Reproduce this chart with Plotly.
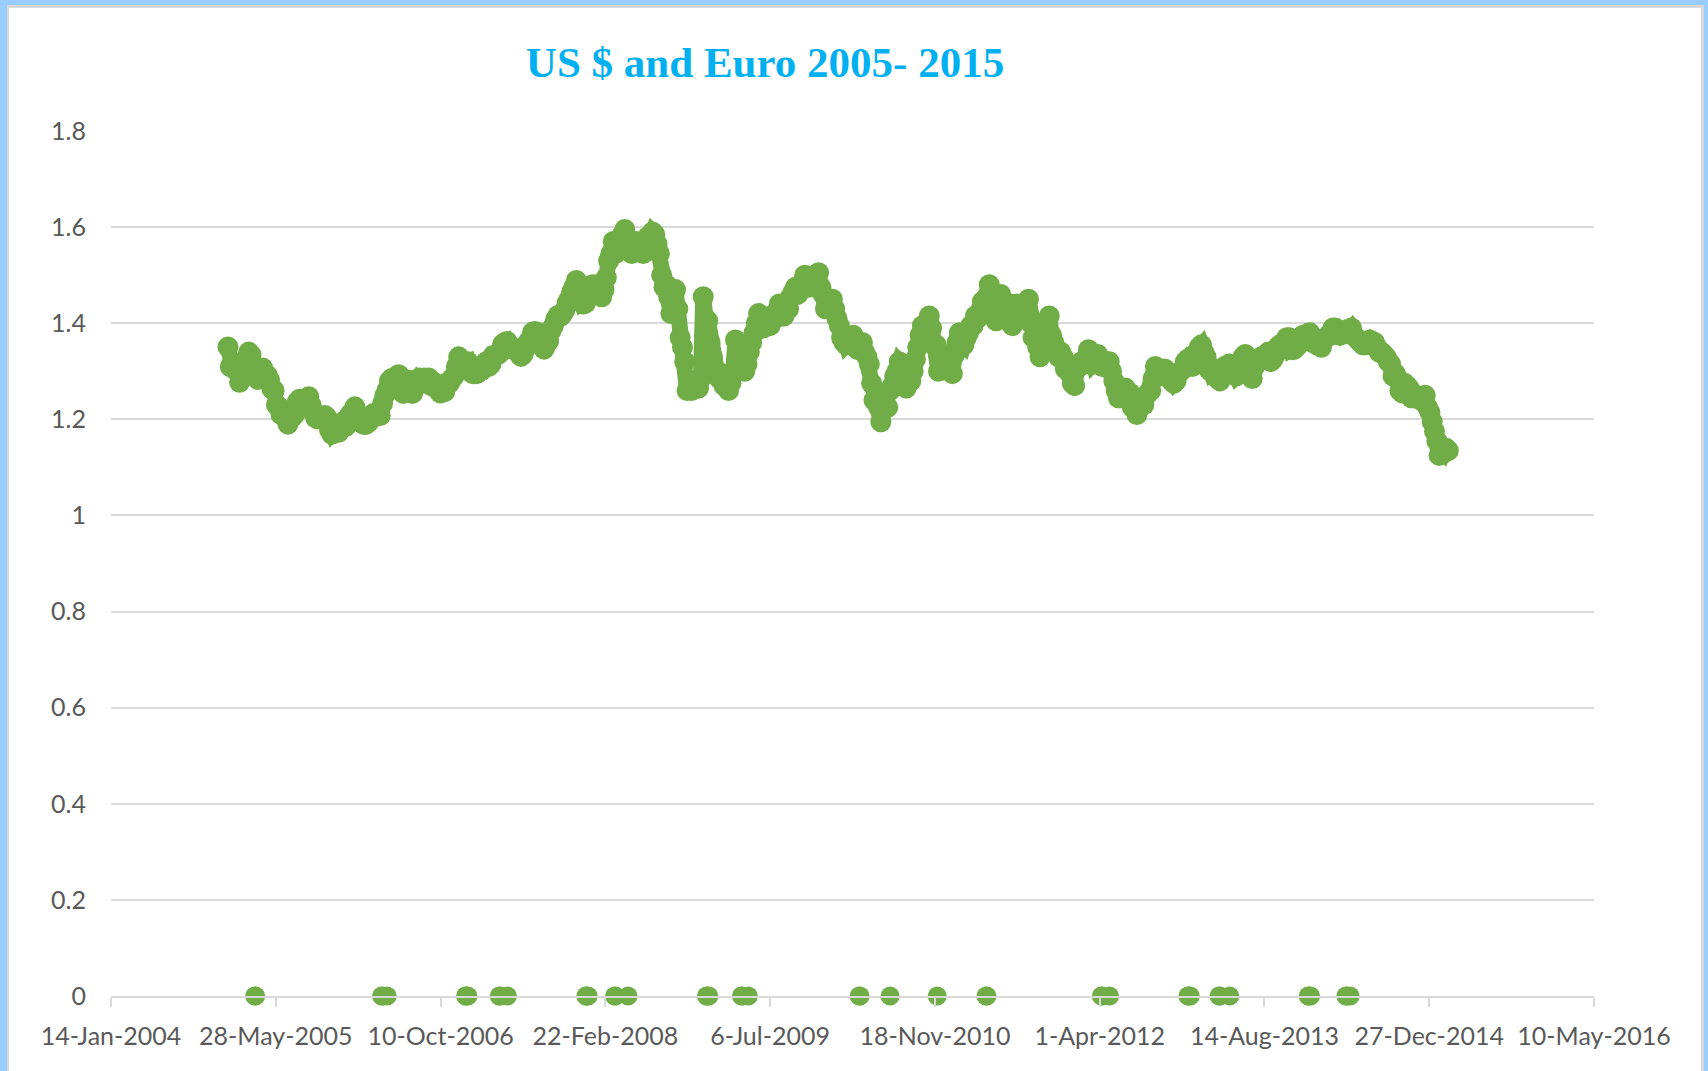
import pandas as pd
import plotly.graph_objects as go

# Weekly EUR/USD reference rates (US $ per Euro), one value per Monday of each year
rate_2005 = [1.3507, 1.3100, 1.3070, 1.3040, 1.3040,
             1.2770, 1.2980, 1.3210, 1.3250,
             1.3400, 1.3340, 1.3020, 1.2940,
             1.2830, 1.2980, 1.3070, 1.2960,
             1.2920, 1.2820, 1.2640, 1.2600, 1.2300,
             1.2260, 1.2100, 1.2170, 1.2100,
             1.1900, 1.2140, 1.2050, 1.2110,
             1.2360, 1.2420, 1.2330, 1.2260, 1.2370,
             1.2470, 1.2300, 1.2160, 1.2030,
             1.2010, 1.2020, 1.2010, 1.2080, 1.2030,
             1.1780, 1.1690, 1.1740, 1.1800,
             1.1730, 1.1900, 1.1950, 1.1850]
rate_2006 = [1.2030, 1.2110, 1.2130, 1.2260, 1.2130,
             1.1980, 1.1920, 1.1890, 1.1900,
             1.1950, 1.2000, 1.2120, 1.2080,
             1.2150, 1.2080, 1.2330, 1.2500,
             1.2610, 1.2800, 1.2850, 1.2780, 1.2850,
             1.2930, 1.2590, 1.2540, 1.2680,
             1.2820, 1.2760, 1.2540, 1.2650, 1.2770,
             1.2860, 1.2830, 1.2860, 1.2800,
             1.2860, 1.2700, 1.2780, 1.2700,
             1.2720, 1.2550, 1.2560, 1.2580, 1.2760,
             1.2750, 1.2840, 1.2900, 1.3100,
             1.3300, 1.3220, 1.3160, 1.3150]
rate_2007 = [1.3200, 1.3000, 1.2950, 1.2950, 1.2950,
             1.3000, 1.3050, 1.3150, 1.3200,
             1.3100, 1.3150, 1.3330, 1.3340,
             1.3350, 1.3390, 1.3560, 1.3600, 1.3620,
             1.3530, 1.3500, 1.3450, 1.3440,
             1.3470, 1.3310, 1.3360, 1.3480,
             1.3600, 1.3670, 1.3810, 1.3830, 1.3700,
             1.3800, 1.3630, 1.3460, 1.3650,
             1.3630, 1.3840, 1.3940, 1.4080,
             1.4160, 1.4140, 1.4190, 1.4270, 1.4420,
             1.4510, 1.4650, 1.4760, 1.4890,
             1.4650, 1.4680, 1.4400, 1.4420, 1.4600]
rate_2008 = [1.4750, 1.4800, 1.4600, 1.4800,
             1.4650, 1.4550, 1.4700, 1.4950,
             1.5300, 1.5450, 1.5700, 1.5450, 1.5600,
             1.5750, 1.5850, 1.5950, 1.5650,
             1.5500, 1.5450, 1.5650, 1.5700,
             1.5500, 1.5600, 1.5450, 1.5600, 1.5800,
             1.5700, 1.5900, 1.5850, 1.5650,
             1.5450, 1.5000, 1.4750, 1.4800,
             1.4550, 1.4200, 1.4250, 1.4700, 1.4300,
             1.3700, 1.3500, 1.3200, 1.2600,
             1.2800, 1.2600, 1.2650, 1.2700,
             1.2650, 1.2850, 1.4550, 1.4100, 1.4050]
rate_2009 = [1.3600, 1.3300, 1.3000, 1.3000,
             1.2850, 1.2950, 1.2700, 1.2700,
             1.2600, 1.2750, 1.3000, 1.3650, 1.3300,
             1.3300, 1.3200, 1.3000, 1.3150,
             1.3400, 1.3600, 1.3800, 1.4000,
             1.4200, 1.3900, 1.3900, 1.4000, 1.4100,
             1.3950, 1.4050, 1.4200, 1.4200,
             1.4400, 1.4150, 1.4150, 1.4300, 1.4300,
             1.4550, 1.4650, 1.4750, 1.4600,
             1.4700, 1.4850, 1.5000, 1.4800,
             1.4750, 1.4950, 1.4900, 1.5000, 1.5050,
             1.4750, 1.4600, 1.4300, 1.4350]
rate_2010 = [1.4400, 1.4500, 1.4300, 1.4100,
             1.3950, 1.3700, 1.3600, 1.3550,
             1.3600, 1.3650, 1.3750, 1.3500, 1.3450,
             1.3450, 1.3600, 1.3400, 1.3300,
             1.3150, 1.2750, 1.2400, 1.2350, 1.2250,
             1.1950, 1.2200, 1.2350, 1.2250,
             1.2600, 1.2700, 1.2900, 1.3000,
             1.3200, 1.3150, 1.2800, 1.2650, 1.2750,
             1.2800, 1.3000, 1.3250, 1.3500,
             1.3750, 1.3950, 1.3850, 1.3850,
             1.4150, 1.3900, 1.3550, 1.3550, 1.3000,
             1.3250, 1.3350, 1.3150, 1.3150]
rate_2011 = [1.3300, 1.2950, 1.3350, 1.3600, 1.3800,
             1.3600, 1.3550, 1.3700, 1.3800,
             1.3950, 1.3950, 1.4150, 1.4100,
             1.4250, 1.4450, 1.4400, 1.4550,
             1.4800, 1.4300, 1.4150, 1.4050, 1.4350,
             1.4600, 1.4350, 1.4350, 1.4300,
             1.4400, 1.3950, 1.4150, 1.4400,
             1.4250, 1.4300, 1.4400, 1.4400, 1.4500,
             1.4000, 1.3700, 1.3700, 1.3500,
             1.3300, 1.3700, 1.3750, 1.3950, 1.4150,
             1.3750, 1.3600, 1.3400, 1.3300,
             1.3400, 1.3300, 1.3050, 1.3050]
rate_2012 = [1.2950, 1.2750, 1.2700, 1.3050, 1.3100,
             1.3200, 1.3150, 1.3250, 1.3450,
             1.3150, 1.3150, 1.3200, 1.3350,
             1.3250, 1.3100, 1.3100, 1.3200, 1.3200,
             1.3000, 1.2800, 1.2600, 1.2450,
             1.2450, 1.2550, 1.2650, 1.2500,
             1.2550, 1.2250, 1.2250, 1.2100, 1.2300,
             1.2400, 1.2300, 1.2500, 1.2550,
             1.2600, 1.2850, 1.3100, 1.2900,
             1.2900, 1.2950, 1.3050, 1.3000, 1.2950,
             1.2800, 1.2750, 1.2800, 1.2950,
             1.3000, 1.3050, 1.3200, 1.3250, 1.3200]
rate_2013 = [1.3100, 1.3350, 1.3350, 1.3500,
             1.3550, 1.3400, 1.3300, 1.3050,
             1.3000, 1.3050, 1.2900, 1.2850,
             1.2800, 1.3050, 1.3100, 1.3050, 1.3150,
             1.3100, 1.2950, 1.2900, 1.2950,
             1.3100, 1.3300, 1.3350, 1.3100,
             1.3050, 1.2850, 1.3100, 1.3200, 1.3250,
             1.3300, 1.3300, 1.3350, 1.3400,
             1.3200, 1.3250, 1.3350, 1.3500, 1.3550,
             1.3550, 1.3550, 1.3700, 1.3700,
             1.3450, 1.3450, 1.3500, 1.3550,
             1.3600, 1.3750, 1.3750, 1.3700, 1.3800]
rate_2014 = [1.3600, 1.3650, 1.3550, 1.3650,
             1.3500, 1.3650, 1.3700, 1.3750,
             1.3750, 1.3900, 1.3900, 1.3800, 1.3750,
             1.3800, 1.3850, 1.3800, 1.3850,
             1.3900, 1.3750, 1.3700, 1.3650,
             1.3600, 1.3550, 1.3550, 1.3600, 1.3650,
             1.3600, 1.3600, 1.3500, 1.3400,
             1.3400, 1.3350, 1.3300, 1.3200,
             1.3150, 1.2900, 1.2950, 1.2850, 1.2600,
             1.2550, 1.2750, 1.2700, 1.2650,
             1.2450, 1.2450, 1.2500, 1.2450,
             1.2400, 1.2450, 1.2500, 1.2250, 1.2150]
rate_2015 = [1.1950, 1.1750, 1.1550, 1.1250,
             1.1350, 1.1300, 1.1400, 1.1350]

# First Monday of each yearly block
block_starts = ["2005-01-03", "2006-01-02", "2007-01-01", "2008-01-07",
                "2009-01-05", "2010-01-04", "2011-01-03", "2012-01-02",
                "2013-01-07", "2014-01-06", "2015-01-05"]
blocks = [rate_2005, rate_2006, rate_2007, rate_2008, rate_2009, rate_2010,
          rate_2011, rate_2012, rate_2013, rate_2014, rate_2015]

# Holidays with no fixing, recorded as 0 in the series
zero_dates = ["2005-03-25", "2005-03-28",
              "2006-04-14", "2006-04-17", "2006-05-01", "2006-12-25", "2006-12-26",
              "2007-01-01", "2007-04-06", "2007-04-09", "2007-05-01",
              "2007-12-25", "2007-12-26",
              "2008-01-01", "2008-03-21", "2008-03-24", "2008-05-01",
              "2008-12-25", "2008-12-26",
              "2009-01-01", "2009-04-10", "2009-04-13", "2009-05-01",
              "2010-04-02", "2010-04-05", "2010-07-05", "2010-11-25",
              "2011-04-22", "2011-04-25",
              "2012-04-06", "2012-04-09", "2012-05-01", "2012-12-25", "2012-12-26",
              "2013-01-01", "2013-03-29", "2013-04-01", "2013-05-01",
              "2013-12-25", "2013-12-26",
              "2014-01-01", "2014-04-18", "2014-04-21", "2014-05-01"]
zero_values = [0.0] * len(zero_dates)

x_tick_dates = ["2004-01-14", "2005-05-28", "2006-10-10", "2008-02-22", "2009-07-06",
                "2010-11-18", "2012-04-01", "2013-08-14", "2014-12-27", "2016-05-10"]
x_tick_labels = ["14-Jan-2004", "28-May-2005", "10-Oct-2006", "22-Feb-2008", "6-Jul-2009",
                 "18-Nov-2010", "1-Apr-2012", "14-Aug-2013", "27-Dec-2014", "10-May-2016"]
y_tick_values = [0, 0.2, 0.4, 0.6, 0.8, 1.0, 1.2, 1.4, 1.6, 1.8]
y_tick_labels = ["0", "0.2", "0.4", "0.6", "0.8", "1", "1.2", "1.4", "1.6", "1.8"]

title_text = "US $ and Euro 2005- 2015"

# Assemble the weekly rate series
rate_dates, rate_values = [], []
for start, vals in zip(block_starts, blocks):
    rate_dates += list(pd.date_range(start=start, periods=len(vals), freq="W-MON"))
    rate_values += vals

W, H = 1708, 1071
ML, MR, MT, MB = 111, 114, 131, 75
PW, PH = W - ML - MR, H - MT - MB

GREEN = "#70AD47"
GRID = "#D9D9D9"
TEXT = "#595959"
FRAME_BLUE = "#99CCFF"
TICK_FONT = dict(family="Lato, Liberation Sans, sans-serif", size=25, color=TEXT)
MARKER = dict(size=21, color=GREEN, line=dict(width=0))

fig = go.Figure()
# dense daily-looking band: markers joined by a thick stroke of the same colour
fig.add_trace(go.Scatter(
    x=rate_dates, y=rate_values, mode="lines+markers",
    line=dict(color=GREEN, width=16, shape="linear"),
    marker=MARKER, cliponaxis=False, hoverinfo="x+y",
))
fig.add_trace(go.Scatter(
    x=pd.to_datetime(zero_dates), y=zero_values, mode="markers",
    marker=dict(size=19, color=GREEN, line=dict(width=0)),
    cliponaxis=False, hoverinfo="x+y",
))


def px_x(p):
    return (p - ML) / PW


def px_y(p):
    return (H - MB - p) / PH


frame = []
# outer blue band (top, left, right)
for x0, y0, x1, y1 in [(0, 0, W, 5), (0, 0, 7, H), (1704, 0, W, H)]:
    frame.append(dict(type="rect", xref="paper", yref="paper",
                      x0=px_x(x0), x1=px_x(x1), y0=px_y(y1), y1=px_y(y0),
                      fillcolor=FRAME_BLUE, line=dict(width=0), layer="above"))
# inner grey edge
for x0, y0, x1, y1 in [(7, 5, 1704, 8), (7, 5, 9, H), (1701, 5, 1704, H)]:
    frame.append(dict(type="rect", xref="paper", yref="paper",
                      x0=px_x(x0), x1=px_x(x1), y0=px_y(y1), y1=px_y(y0),
                      fillcolor=GRID, line=dict(width=0), layer="above"))

fig.update_layout(
    width=W, height=H,
    margin=dict(l=ML, r=MR, t=MT, b=MB, autoexpand=False),
    paper_bgcolor="white", plot_bgcolor="white",
    showlegend=False,
    title=dict(text=title_text, xref="container", yref="container",
               x=765 / W, xanchor="center", y=1 - 62 / H, yanchor="middle",
               font=dict(family="Liberation Serif, Times New Roman, serif",
                         size=43, color="#00B0F0", weight="bold")),
    shapes=frame,
    xaxis=dict(type="date", range=["2004-01-14", "2016-05-10"],
               tickvals=x_tick_dates, ticktext=x_tick_labels, tickangle=0,
               automargin=False,
               showgrid=False, zeroline=False,
               showline=True, linecolor=GRID, linewidth=1.5,
               ticks="outside", ticklen=9, tickwidth=1.5, tickcolor=GRID,
               tickfont=TICK_FONT, ticklabelstandoff=8, fixedrange=True),
    yaxis=dict(range=[0, 1.8], tickvals=y_tick_values, ticktext=y_tick_labels,
               automargin=False,
               showgrid=True, gridcolor=GRID, gridwidth=1.5,
               zeroline=False, showline=False, ticks="",
               tickfont=TICK_FONT, ticklabelstandoff=24, fixedrange=True),
)

fig.write_html("out.html")
